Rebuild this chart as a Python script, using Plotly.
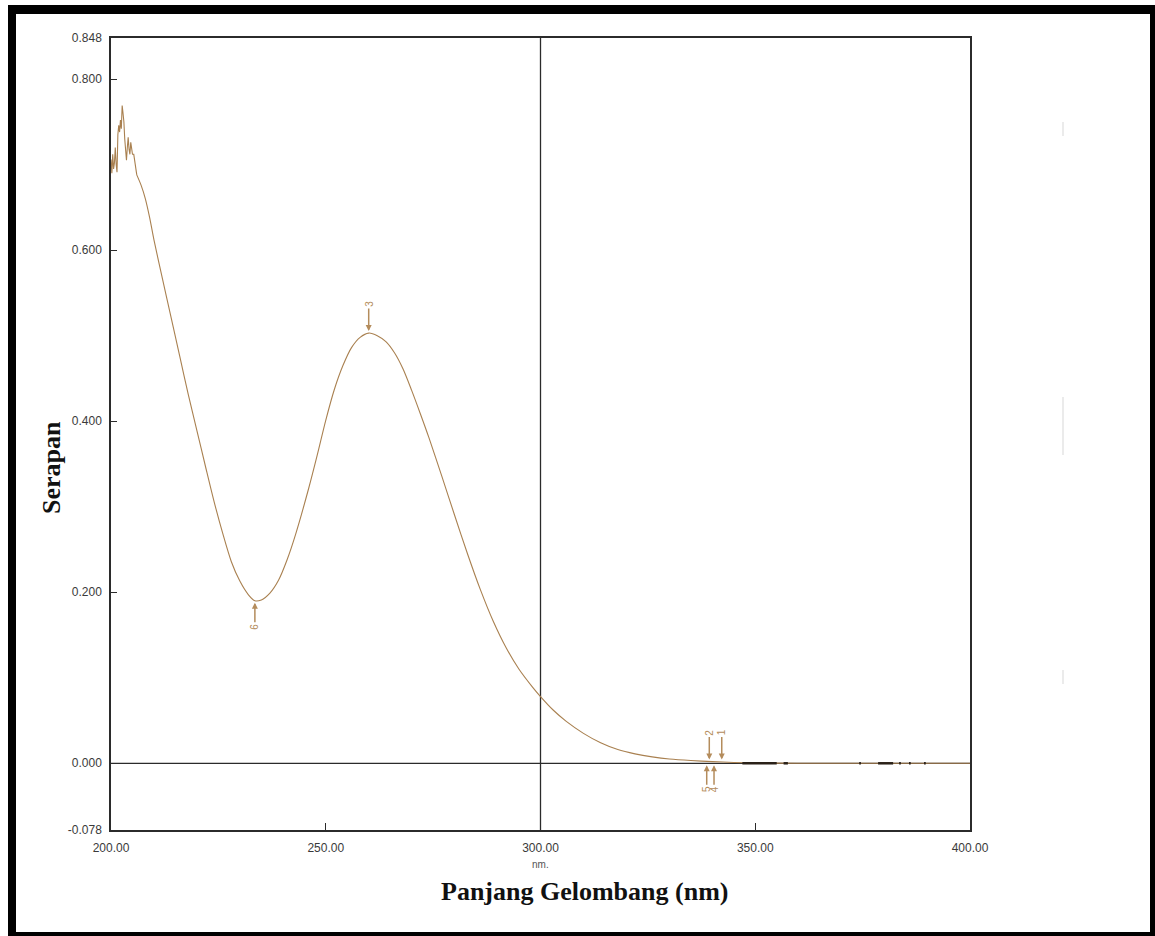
import plotly.graph_objects as go

# UV-Vis absorption spectrum (wavelength in nm, absorbance)
noisy_wl = [200.0, 200.2, 200.4, 200.6, 200.8, 201.0, 201.2, 201.4, 201.6, 201.8,
            202.0, 202.2, 202.4, 202.6, 202.8, 203.0, 203.2, 203.4, 203.6, 203.8,
            204.0, 204.2, 204.4, 204.6, 204.8, 205.0, 205.3, 205.6, 206.0]
noisy_abs = [0.706, 0.690, 0.712, 0.695, 0.702, 0.720, 0.700, 0.691, 0.735, 0.746,
             0.738, 0.752, 0.742, 0.769, 0.760, 0.750, 0.730, 0.714, 0.705, 0.720,
             0.732, 0.718, 0.712, 0.726, 0.715, 0.712, 0.712, 0.700, 0.688]

smooth_wl = [206, 207, 208, 209, 210, 212, 214, 216, 218, 220, 222, 224, 226, 228,
             230, 232, 233.5, 235, 237, 239, 241, 243, 246, 248, 250, 252, 254, 256,
             258, 260, 262, 264, 266, 268, 270, 272, 274, 277, 280, 283, 286, 289,
             292, 295, 298, 300, 303, 306, 310, 314, 318, 322, 326, 330, 335, 340,
             345, 350, 360, 370, 380, 390, 400]
smooth_abs = [0.688, 0.676, 0.660, 0.638, 0.612, 0.566, 0.521, 0.476, 0.431, 0.389,
              0.347, 0.306, 0.269, 0.236, 0.213, 0.197, 0.190, 0.191, 0.199, 0.214,
              0.238, 0.268, 0.321, 0.360, 0.401, 0.437, 0.465, 0.486, 0.498, 0.503,
              0.500, 0.493, 0.480, 0.461, 0.436, 0.409, 0.381, 0.336, 0.290, 0.245,
              0.203, 0.166, 0.135, 0.110, 0.090, 0.078, 0.062, 0.049, 0.035, 0.024,
              0.016, 0.011, 0.0075, 0.005, 0.0032, 0.002, 0.001, 0.0005, 0.0, 0.0,
              0.0, 0.0, 0.0]

# Short dark noise segments on the baseline
noise_wl = [347.0, 355.0, None, 356.6, 357.6, None, 374.2, 374.6, None,
            378.6, 382.1, None, 383.5, 383.9, None, 385.8, 386.2, None, 389.3, 389.7]
noise_abs = [0.0, 0.0, None, 0.0, 0.0, None, 0.0, 0.0, None,
             0.0, 0.0, None, 0.0, 0.0, None, 0.0, 0.0, None, 0.0, 0.0]

# Picked peaks / valleys
pick_ids = ["3", "6", "2", "1", "5", "4"]
pick_wl = [260.0, 233.5, 339.3, 342.2, 338.7, 340.4]
pick_abs = [0.503, 0.190, 0.002, 0.002, 0.0, 0.0]
pick_side = ["up", "down", "up", "up", "down", "down"]

y_ticks = [-0.078, 0.0, 0.2, 0.4, 0.6, 0.8, 0.848]
x_ticks = [200, 250, 300, 350, 400]

curve_color = "#a98050"
label_color = "#b48c5c"
axis_color = "#2b2b2b"

fig = go.Figure()
fig.add_trace(go.Scatter(x=smooth_wl, y=smooth_abs, mode="lines",
                         line=dict(color=curve_color, width=1.1, shape="spline", smoothing=0.8),
                         hoverinfo="skip", showlegend=False))
fig.add_trace(go.Scatter(x=noisy_wl, y=noisy_abs, mode="lines",
                         line=dict(color=curve_color, width=1.1),
                         hoverinfo="skip", showlegend=False))
fig.add_trace(go.Scatter(x=noise_wl, y=noise_abs, mode="lines",
                         line=dict(color="#2a2118", width=2.5),
                         hoverinfo="skip", showlegend=False, connectgaps=False))

annotations = []
for pid, wl, ab, side in zip(pick_ids, pick_wl, pick_abs, pick_side):
    annotations.append(dict(
        x=wl, y=ab, xref="x", yref="y", text=pid, textangle=-90,
        showarrow=True, arrowhead=2, arrowsize=0.8, arrowwidth=1.5,
        arrowcolor=label_color, ax=0, ay=-29 if side == "up" else 26,
        standoff=2, font=dict(family="Liberation Sans, Arial", size=10, color=label_color)))

W, H = 1155, 936
L, R, T, B = 111, 185, 38, 106
pw, ph = W - L - R, H - T - B


def px(xp):
    return (xp - L) / pw


def py(yp):
    return (H - B - yp) / ph


# axis unit under the 300 tick
annotations.append(dict(x=300, y=py(865), xref="x", yref="paper",
                        xanchor="center", yanchor="middle",
                        text="nm.", showarrow=False,
                        font=dict(family="Liberation Sans, Arial", size=10, color="#555555")))
# axis titles
annotations.append(dict(x=px(584), y=py(891), xref="paper", yref="paper",
                        xanchor="center", yanchor="middle",
                        text="<b>Panjang Gelombang (nm)</b>", showarrow=False,
                        font=dict(family="Liberation Serif, Times New Roman", size=26, color="#111111")))
annotations.append(dict(x=px(51), y=py(468), xref="paper", yref="paper",
                        xanchor="center", yanchor="middle", textangle=-90,
                        text="<b>Serapan</b>", showarrow=False,
                        font=dict(family="Liberation Serif, Times New Roman", size=26, color="#111111")))

shapes = [
    # zero absorbance line and cursor at 300 nm
    dict(type="line", xref="paper", yref="y", x0=0, x1=1, y0=0, y1=0,
         line=dict(color=axis_color, width=1.3), layer="below"),
    dict(type="line", xref="x", yref="paper", x0=300, x1=300, y0=0, y1=1,
         line=dict(color=axis_color, width=1.3), layer="below"),
]
# outer black frame
for x0, y0, x1, y1 in [(8, 5, 16, 936), (8, 5, 1155, 14), (1150, 5, 1155, 936), (8, 932, 1155, 936)]:
    shapes.append(dict(type="rect", xref="paper", yref="paper",
                       x0=px(x0), x1=px(x1), y0=py(y1), y1=py(y0),
                       fillcolor="black", line=dict(width=0)))
# faint marks on the right margin
for y0, y1 in [(122, 136), (397, 455), (670, 684)]:
    shapes.append(dict(type="line", xref="paper", yref="paper",
                       x0=px(1063), x1=px(1063), y0=py(y1), y1=py(y0),
                       line=dict(color="#e4e4e4", width=1.5)))

fig.update_layout(
    width=W, height=H, margin=dict(l=L, r=R, t=T, b=B),
    paper_bgcolor="white", plot_bgcolor="white",
    annotations=annotations, shapes=shapes,
    xaxis=dict(range=[200, 400], tickvals=x_ticks,
               ticktext=[f"{v:.2f}" for v in x_ticks],
               ticks="inside", ticklen=7, tickcolor=axis_color, tickwidth=1.3,
               showline=True, linecolor=axis_color, linewidth=1.5, mirror=True,
               showgrid=False, zeroline=False, ticklabelstandoff=6,
               tickfont=dict(family="Liberation Sans, Arial", size=12, color="#3a3a3a")),
    yaxis=dict(range=[-0.078, 0.848], tickvals=y_ticks,
               ticktext=[f"{v:.3f}" for v in y_ticks],
               ticks="inside", ticklen=6, tickcolor=axis_color, tickwidth=1.3,
               showline=True, linecolor=axis_color, linewidth=1.5, mirror=True,
               showgrid=False, zeroline=False, ticklabelstandoff=5,
               tickfont=dict(family="Liberation Sans, Arial", size=12, color="#3a3a3a")),
)

fig.write_html("out.html")
